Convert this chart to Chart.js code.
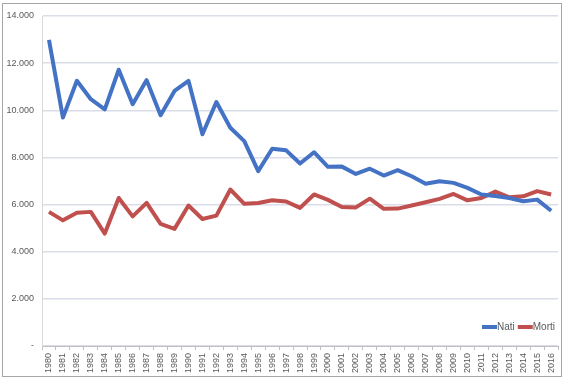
<!DOCTYPE html>
<html>
<head>
<meta charset="utf-8">
<script src="https://cdn.jsdelivr.net/npm/chart.js@4"></script>
<style>
  html, body { margin: 0; padding: 0; background: #fff; }
  #wrap { width: 565px; height: 379px; }
</style>
</head>
<body>
<div id="wrap"><canvas id="grafico" width="565" height="379"></canvas></div>
<script>
// anni
var anni = ["1980","1981","1982","1983","1984","1985","1986","1987","1988","1989",
  "1990","1991","1992","1993","1994","1995","1996","1997","1998","1999",
  "2000","2001","2002","2003","2004","2005","2006","2007","2008","2009",
  "2010","2011","2012","2013","2014","2015","2016"];

var nati = [12990, 9690, 11250, 10470, 10040, 11720, 10260, 11280, 9790, 10820,
  11250, 8980, 10350, 9260, 8690, 7420, 8370, 8300, 7740, 8220,
  7600, 7610, 7300, 7520, 7230, 7460, 7200, 6880, 6990, 6920,
  6710, 6430, 6360, 6280, 6140, 6210, 5740];

var morti = [5690, 5330, 5650, 5690, 4770, 6280, 5500, 6070, 5180, 4970,
  5960, 5390, 5530, 6640, 6030, 6070, 6180, 6130, 5860, 6430,
  6200, 5900, 5880, 6250, 5820, 5830, 5960, 6100, 6240, 6450,
  6180, 6280, 6550, 6310, 6350, 6570, 6430];

var blu = "#4472c4";
var rosso = "#c0504d";
var testo = "#595959";
var font = "'Liberation Sans', Arial, sans-serif";

function migliaia(v) {
  if (v === 0) return "-";
  var s = String(Math.round(v));
  return s.replace(/\B(?=(\d{3})+(?!\d))/g, ".");
}

// cornice e legenda come in Excel
var cornice = {
  id: "cornice",
  afterDraw: function (chart) {
    var ctx = chart.ctx;
    ctx.save();
    ctx.strokeStyle = "#a6a6a6";
    ctx.lineWidth = 1;
    ctx.strokeRect(2.5, 3.5, 559, 373);

    var voci = [["Nati", blu], ["Morti", rosso]];
    var x = 482, y = 327;
    ctx.font = "10px " + font;
    ctx.textBaseline = "middle";
    voci.forEach(function (v) {
      ctx.strokeStyle = v[1];
      ctx.lineWidth = 4;
      ctx.beginPath();
      ctx.moveTo(x, y);
      ctx.lineTo(x + 15, y);
      ctx.stroke();
      ctx.fillStyle = testo;
      ctx.fillText(v[0], x + 15, y);
      x += 15 + ctx.measureText(v[0]).width + 3;
    });
    ctx.restore();
  }
};

new Chart(document.getElementById("grafico").getContext("2d"), {
  type: "line",
  data: {
    labels: anni,
    datasets: [
      { label: "Nati", data: nati, borderColor: blu, backgroundColor: blu,
        borderWidth: 4, pointRadius: 0, tension: 0, borderJoinStyle: "round" },
      { label: "Morti", data: morti, borderColor: rosso, backgroundColor: rosso,
        borderWidth: 4, pointRadius: 0, tension: 0, borderJoinStyle: "round" }
    ]
  },
  options: {
    responsive: false,
    animation: false,
    layout: { padding: { left: 0, top: 16, right: 2, bottom: 3 } },
    plugins: {
      legend: { display: false },
      tooltip: { enabled: false }
    },
    scales: {
      x: {
        offset: true,
        grid: { display: true, drawOnChartArea: false, drawTicks: true, tickLength: 4,
          offset: true, color: "#bfbfbf" },
        border: { display: true, color: "#bfbfbf" },
        ticks: { color: testo, font: { family: font, size: 9 }, maxRotation: 90,
          minRotation: 90, autoSkip: false, padding: 3 },
        afterFit: function (s) { s.height = 30; }
      },
      y: {
        min: 0,
        max: 14000,
        ticks: { stepSize: 2000, color: testo, font: { family: font, size: 9 },
          padding: 8, callback: function (v) { return migliaia(v); } },
        grid: { color: "#d9dee8", lineWidth: 1.5, drawTicks: false },
        border: { display: true, color: "#d9d9d9" },
        afterFit: function (s) { s.width = 42; }
      }
    }
  },
  plugins: [cornice]
});
</script>
</body>
</html>
